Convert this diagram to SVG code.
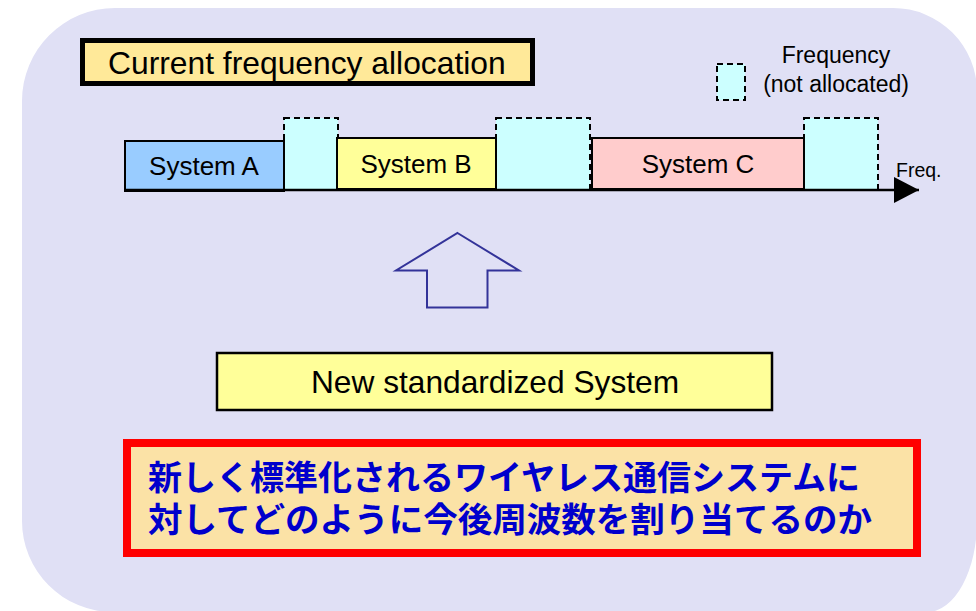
<svg xmlns="http://www.w3.org/2000/svg" width="976" height="611" viewBox="0 0 976 611">
  <style>
    .lbl { font-family: "Liberation Sans", Arial, sans-serif; fill: #000; }
    .sys { stroke: #000; stroke-width: 2; }
    .free { fill: #CCFFFF; stroke: #000; stroke-width: 2; stroke-dasharray: 6 4; }
    .jp { font-family: "Noto Sans CJK JP", sans-serif; font-weight: bold; font-size: 34px; fill: #0000CC; }
  </style>

  <!-- panel background -->
  <path id="panel" d="M22 101 A93 93 0 0 1 115 8 H893 A84 84 0 0 1 977 92 V520 A50 91 0 0 1 927 612 H113 A91 91 0 0 1 22 521 Z" fill="#E0E0F5"/>

  <!-- title -->
  <g id="title">
    <rect x="82.5" y="40.5" width="450" height="43" fill="#FFE999" stroke="#000" stroke-width="5"/>
    <text class="lbl" x="108" y="74" font-size="31.8">Current frequency allocation</text>
  </g>

  <!-- legend -->
  <g id="legend">
    <rect class="free" x="717" y="64" width="28" height="36"/>
    <text class="lbl" x="836" y="63" font-size="23" text-anchor="middle">Frequency</text>
    <text class="lbl" x="836" y="92" font-size="23" text-anchor="middle">(not allocated)</text>
  </g>

  <!-- frequency bands -->
  <g id="free1"><rect class="free" x="284" y="118" width="54" height="72"/></g>
  <g id="free2"><rect class="free" x="496" y="118" width="94" height="72"/></g>
  <g id="free3"><rect class="free" x="804" y="118" width="74" height="72"/></g>

  <g id="systemA">
    <rect class="sys" x="125" y="141" width="159" height="50" fill="#99CCFF"/>
    <text class="lbl" x="204" y="175" font-size="26" text-anchor="middle">System A</text>
  </g>
  <g id="systemB">
    <rect class="sys" x="337" y="138" width="159" height="51" fill="#FFFF99"/>
    <text class="lbl" x="416" y="173" font-size="26" text-anchor="middle">System B</text>
  </g>
  <g id="systemC">
    <rect class="sys" x="592" y="138" width="212" height="51" fill="#FFCCCC"/>
    <text class="lbl" x="698" y="173" font-size="26" text-anchor="middle">System C</text>
  </g>

  <!-- frequency axis -->
  <g id="connectors">
    <line x1="125" y1="190" x2="919" y2="190" stroke="#000" stroke-width="2.5"/>
    <path d="M894 177 L919 190 L894 203 Z" fill="#000"/>
  </g>
  <text class="lbl" x="896" y="177" font-size="19.5">Freq.</text>

  <!-- hollow up arrow -->
  <g id="upArrow">
    <path d="M457.5 233 L519 270.5 L487.5 270.5 L487.5 307.5 L427 307.5 L427 270.5 L396 270.5 Z" fill="none" stroke="#333399" stroke-width="2"/>
  </g>

  <!-- new system -->
  <g id="newSystem">
    <rect x="217" y="353" width="555" height="57" fill="#FFFF99" stroke="#000" stroke-width="2.5"/>
    <text class="lbl" x="495" y="393" font-size="31.7" text-anchor="middle">New standardized System</text>
  </g>

  <!-- question -->
  <g id="question">
    <rect x="127" y="443" width="790" height="110" fill="#FBE2A6" stroke="#FF0000" stroke-width="8"/>
    <text class="jp" x="148" y="490" textLength="712" lengthAdjust="spacingAndGlyphs">新しく標準化されるワイヤレス通信システムに</text>
    <text class="jp" x="148" y="532" textLength="724" lengthAdjust="spacingAndGlyphs">対してどのように今後周波数を割り当てるのか</text>
  </g>
</svg>
